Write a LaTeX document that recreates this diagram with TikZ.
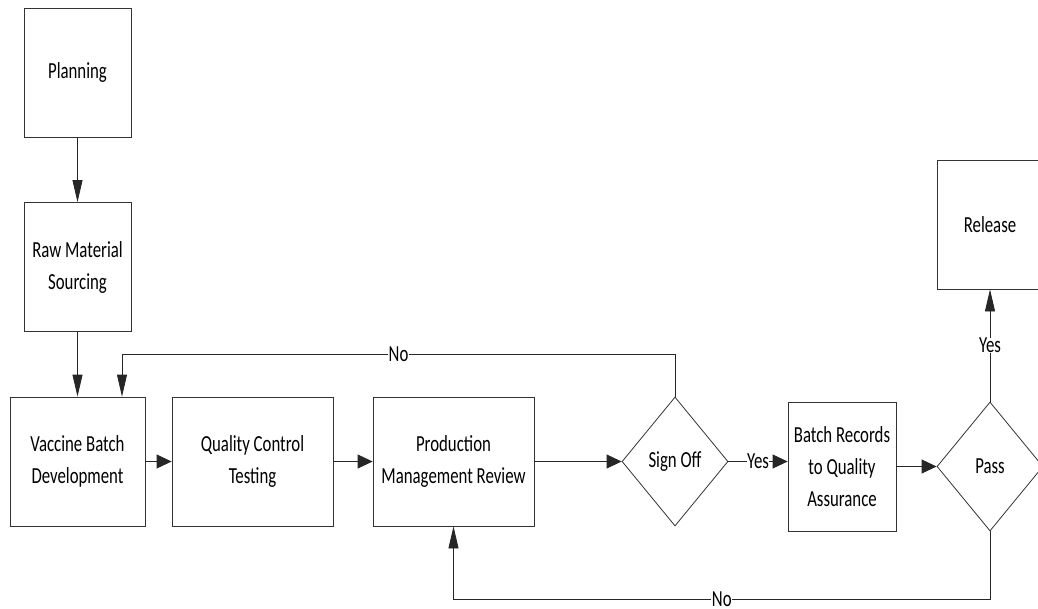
\documentclass[tikz,border=0pt]{standalone}
\usepackage{fontspec}
\setmainfont{Carlito}[FakeStretch=0.73]
\usetikzlibrary{shapes.geometric,arrows.meta}

\newcommand{\flowfont}{\fontsize{23}{32}\selectfont}
\tikzset{
  flowbox/.style={rectangle, draw=black!80, line width=0.8pt,
                  minimum height=129pt, inner sep=2pt, align=center, font=\flowfont},
  decision/.style={diamond, draw=black!80, line width=0.8pt, minimum width=106pt,
                   minimum height=129pt, inner sep=0pt, font=\flowfont},
  harrow/.style={draw=black!85, line width=0.8pt, -{Triangle[length=15pt,width=14pt]}},
  varrow/.style={draw=black!85, line width=0.8pt, -{Triangle[length=22pt,width=10pt]}},
  flowlabel/.style={fill=white, inner sep=0.5pt, font=\flowfont},
}

\begin{document}
\begin{tikzpicture}[x=1pt, y=-1pt]
  \useasboundingbox (0,0) rectangle (1038,608);
  \clip (0,0) rectangle (1038,608);

  % supply side, top left column
  \node[flowbox, minimum width=107pt] (plan) at (77.5,72.5) {Planning};
  \node[flowbox, minimum width=107pt] (raw)  at (77.5,267)  {Raw Material\\Sourcing};

  % production row
  \node[flowbox, minimum width=135pt] (vbd) at (77.5,461.5)  {Vaccine Batch\\Development};
  \node[flowbox, minimum width=161pt] (qct) at (252.5,461.5) {Quality Control\\Testing};
  \node[flowbox, minimum width=161pt] (pmr) at (453.5,461.5) {Production\\Management Review};
  \node[decision] (sign) at (675,461.5) {Sign Off};

  % quality assurance and release
  \node[flowbox, minimum width=108pt] (brq) at (842,466.5) {Batch Records\\to Quality\\Assurance};
  \node[decision] (pass) at (990,466.5) {Pass};
  \node[flowbox, minimum width=106pt] (rel) at (990,224.5) {Release};

  % loop-back corners
  \coordinate (notop) at (122,354);
  \coordinate (nobot) at (453.5,599);

  \draw[varrow] (plan) -- (raw);
  \draw[varrow] (raw) -- (vbd);
  \draw[harrow] (vbd) -- (qct);
  \draw[harrow] (qct) -- (pmr);
  \draw[harrow] (pmr) -- (sign);
  \draw[harrow] (sign.east) -- node[flowlabel] {Yes} (sign.east -| brq.west);
  \draw[harrow] (brq) -- (pass);
  \draw[varrow] (pass) -- node[flowlabel] {Yes} (rel);
  \draw[varrow] (sign.north) |- node[flowlabel, pos=0.75] {No} (notop) -- (vbd.north -| notop);
  \draw[varrow] (pass.south) |- node[flowlabel, pos=0.75] {No} (nobot) -- (pmr.south);
\end{tikzpicture}
\end{document}
